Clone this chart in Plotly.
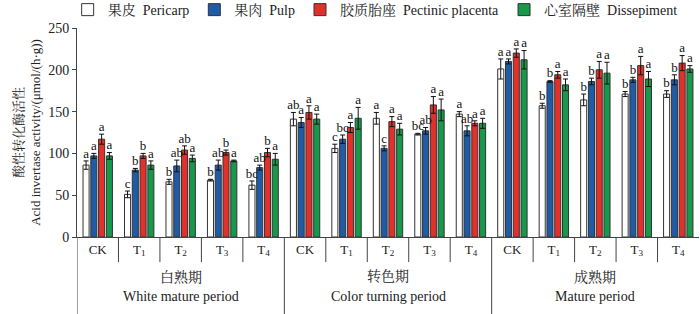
import plotly.graph_objects as go

periods_cn = ["白熟期", "转色期", "成熟期"]
periods_en = ["White mature period", "Color turning period", "Mature period"]
treatments = ["CK", "T<sub>1</sub>", "T<sub>2</sub>", "T<sub>3</sub>", "T<sub>4</sub>"]

series_names = ["果皮  Pericarp", "果肉  Pulp", "胶质胎座  Pectinic placenta", "心室隔壁  Dissepiment"]
colors = ["#ffffff", "#1f5ca8", "#e4302b", "#16994a"]

pericarp = [86, 51, 66, 68, 62, 141, 106, 142, 123, 147, 201, 157, 164, 171, 171]
pericarp_err = [5, 4, 3, 1, 5, 8, 5, 7, 1, 3, 12, 3, 7, 3, 4]
pericarp_sig = ["a", "c", "b", "b", "bc", "ab", "c", "a", "bc", "a", "a", "b", "b", "b", "b"]

pulp = [97, 80, 85, 86, 83, 137, 117, 106, 127, 127, 210, 186, 186, 188, 188]
pulp_err = [3, 2, 7, 6, 3, 6, 5, 3, 4, 6, 3, 1, 4, 3, 6]
pulp_sig = ["a", "b", "ab", "ab", "ab", "a", "bc", "c", "ab", "ab", "a", "b", "b", "b", "b"]

placenta = [117, 97, 104, 101, 101, 149, 131, 138, 158, 136, 220, 194, 200, 205, 208]
placenta_err = [6, 3, 5, 3, 5, 8, 6, 6, 10, 3, 5, 4, 10, 11, 9]
placenta_sig = ["a", "b", "ab", "b", "b", "a", "a", "a", "a", "a", "a", "a", "a", "a", "a"]

dissepiment = [97, 86, 94, 91, 93, 141, 142, 129, 152, 136, 212, 182, 196, 189, 201]
dissepiment_err = [4, 5, 4, 1, 7, 6, 13, 7, 13, 6, 11, 7, 13, 9, 4]
dissepiment_sig = ["a", "a", "a", "a", "a", "a", "a", "a", "a", "a", "a", "a", "a", "a", "a"]

values = [pericarp, pulp, placenta, dissepiment]
errors = [pericarp_err, pulp_err, placenta_err, dissepiment_err]
sigs = [pericarp_sig, pulp_sig, placenta_sig, dissepiment_sig]

FONT = "Liberation Serif, 'Noto Serif CJK SC', 'Noto Sans CJK SC', serif"
BARGAP = 0.25
n_cat = len(periods_cn) * len(treatments)
xs = list(range(n_cat))
ticktext = treatments * len(periods_cn)
nser = len(values)
slot = (1 - BARGAP) / nser

fig = go.Figure()
for k in range(nser):
    fig.add_trace(go.Bar(
        x=xs, y=values[k], name=series_names[k],
        marker=dict(color=colors[k], line=dict(color="#333333", width=1)),
        error_y=dict(type="data", array=errors[k], color="#111111", thickness=1, width=2.5),
    ))
for k in range(nser):
    fig.add_trace(go.Scatter(
        x=[x + (k - (nser - 1) / 2) * slot for x in xs],
        y=[v + e for v, e in zip(values[k], errors[k])],
        text=sigs[k], mode="text", textposition="top center",
        textfont=dict(family=FONT, size=13, color="#111111"),
        showlegend=False, hoverinfo="skip", cliponaxis=False,
    ))

shapes = []
for i in range(n_cat - 1):
    is_group = (i + 1) % len(treatments) == 0
    shapes.append(dict(type="line", xref="x", yref="paper", x0=i + 0.5, x1=i + 0.5,
                       y0=0, y1=-0.37 if is_group else -0.12,
                       line=dict(color="#444444", width=1)))
shapes.append(dict(type="line", xref="x", yref="paper", x0=-0.5, x1=-0.5, y0=0, y1=-0.37,
                   line=dict(color="#444444", width=1)))

annotations = []
for g in range(len(periods_cn)):
    cx = g * len(treatments) + (len(treatments) - 1) / 2
    annotations.append(dict(x=cx, xref="x", y=-0.19, yref="paper", yanchor="middle",
                            showarrow=False, text=periods_cn[g],
                            font=dict(family=FONT, size=14, color="#222222")))
    annotations.append(dict(x=cx, xref="x", y=-0.287, yref="paper", yanchor="middle",
                            showarrow=False, text=periods_en[g],
                            font=dict(family=FONT, size=14, color="#222222")))

fig.update_layout(
    width=700, height=314,
    margin=dict(l=77, r=1, t=28, b=77, autoexpand=False),
    paper_bgcolor="white", plot_bgcolor="white",
    barmode="group", bargap=BARGAP, bargroupgap=0.22,
    font=dict(family=FONT, size=13, color="#222222"),
    showlegend=True,
    legend=dict(orientation="h", x=-0.015, xanchor="left", y=1.086, yanchor="middle",
                font=dict(family=FONT, size=14), itemwidth=30,
                bgcolor="rgba(0,0,0,0)", traceorder="normal"),
    shapes=shapes, annotations=annotations,
)
fig.update_xaxes(range=[-0.5, n_cat - 0.5], tickvals=xs, ticktext=ticktext,
                 showline=True, linecolor="#444444", linewidth=1, ticks="",
                 showgrid=False, zeroline=False, tickfont=dict(family=FONT, size=13),
                 automargin=False)
fig.update_yaxes(range=[0, 250], dtick=50, showline=True, linecolor="#444444", linewidth=1,
                 ticks="outside", ticklen=4, tickcolor="#444444", showgrid=False, zeroline=False,
                 tickfont=dict(family=FONT, size=14), automargin=False,
                 title=dict(text="酸性转化酶活性<br>Acid invertase activity/(μmol/(h·g))",
                            font=dict(family=FONT, size=13), standoff=4))

fig.write_html("out.html", config={"displayModeBar": False},
               post_script="document.body.style.margin='0px';")
